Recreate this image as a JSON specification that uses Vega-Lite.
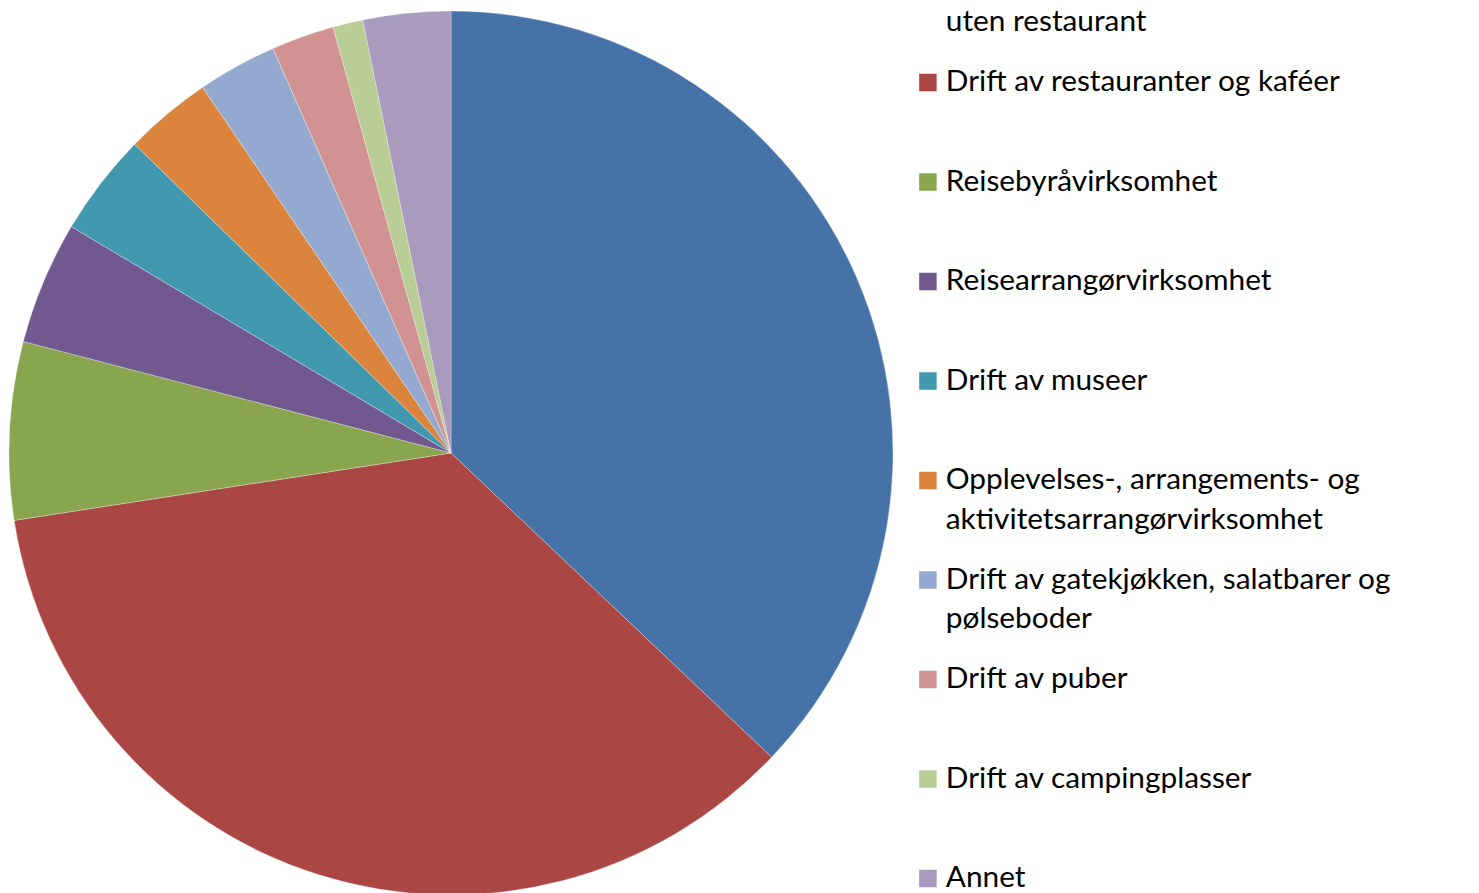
{
  "$schema": "https://vega.github.io/schema/vega-lite/v6.json",
  "autosize": {"type": "none"},
  "padding": {"left": 0, "top": 0, "right": 577, "bottom": 0},
  "width": 902,
  "height": 893,
  "background": "#ffffff",
  "data": {
    "values": [
      {"idx": 1, "kategori": "Drift av hoteller og lignende med og|uten restaurant", "andel": 37.1},
      {"idx": 2, "kategori": "Drift av restauranter og kaféer", "andel": 35.5},
      {"idx": 3, "kategori": "Reisebyråvirksomhet", "andel": 6.5},
      {"idx": 4, "kategori": "Reisearrangørvirksomhet", "andel": 4.5},
      {"idx": 5, "kategori": "Drift av museer", "andel": 3.75},
      {"idx": 6, "kategori": "Opplevelses-, arrangements- og|aktivitetsarrangørvirksomhet", "andel": 3.2},
      {"idx": 7, "kategori": "Drift av gatekjøkken, salatbarer og|pølseboder", "andel": 2.9},
      {"idx": 8, "kategori": "Drift av puber", "andel": 2.3},
      {"idx": 9, "kategori": "Drift av campingplasser", "andel": 1.1},
      {"idx": 10, "kategori": "Annet", "andel": 3.2}
    ]
  },
  "mark": {"type": "arc", "radius": 442, "yOffset": 6.5, "stroke": "#ffffff", "strokeWidth": 0.3},
  "encoding": {
    "theta": {"field": "andel", "type": "quantitative", "stack": true},
    "order": {"field": "idx", "type": "quantitative"},
    "color": {
      "field": "kategori",
      "type": "nominal",
      "scale": {
        "domain": [
          "Drift av hoteller og lignende med og|uten restaurant",
          "Drift av restauranter og kaféer",
          "Reisebyråvirksomhet",
          "Reisearrangørvirksomhet",
          "Drift av museer",
          "Opplevelses-, arrangements- og|aktivitetsarrangørvirksomhet",
          "Drift av gatekjøkken, salatbarer og|pølseboder",
          "Drift av puber",
          "Drift av campingplasser",
          "Annet"
        ],
        "range": ["#4572A7", "#AA4643", "#89A54E", "#71588F", "#4198AF", "#DB843D", "#93A9CF", "#D19392", "#B9CD96", "#A99BBD"]
      },
      "legend": {
        "title": null,
        "orient": "none",
        "legendX": 913,
        "legendY": -47.1,
        "padding": 0,
        "gridAlign": "all",
        "rowPadding": 14.5,
        "symbolType": "M-1,0.74H1V2.74H-1Z",
        "symbolSize": 306,
        "symbolStrokeWidth": 0,
        "symbolOffset": 0,
        "labelOffset": 3,
        "labelBaseline": "top",
        "labelFont": "Lato",
        "labelFontSize": 29.8,
        "labelColor": "#000000",
        "labelLimit": 700,
        "labelExpr": "split(datum.label, '|')"
      }
    }
  },
  "config": {
    "view": {"stroke": null},
    "style": {"guide-label": {"lineHeight": 39.5}}
  }
}
